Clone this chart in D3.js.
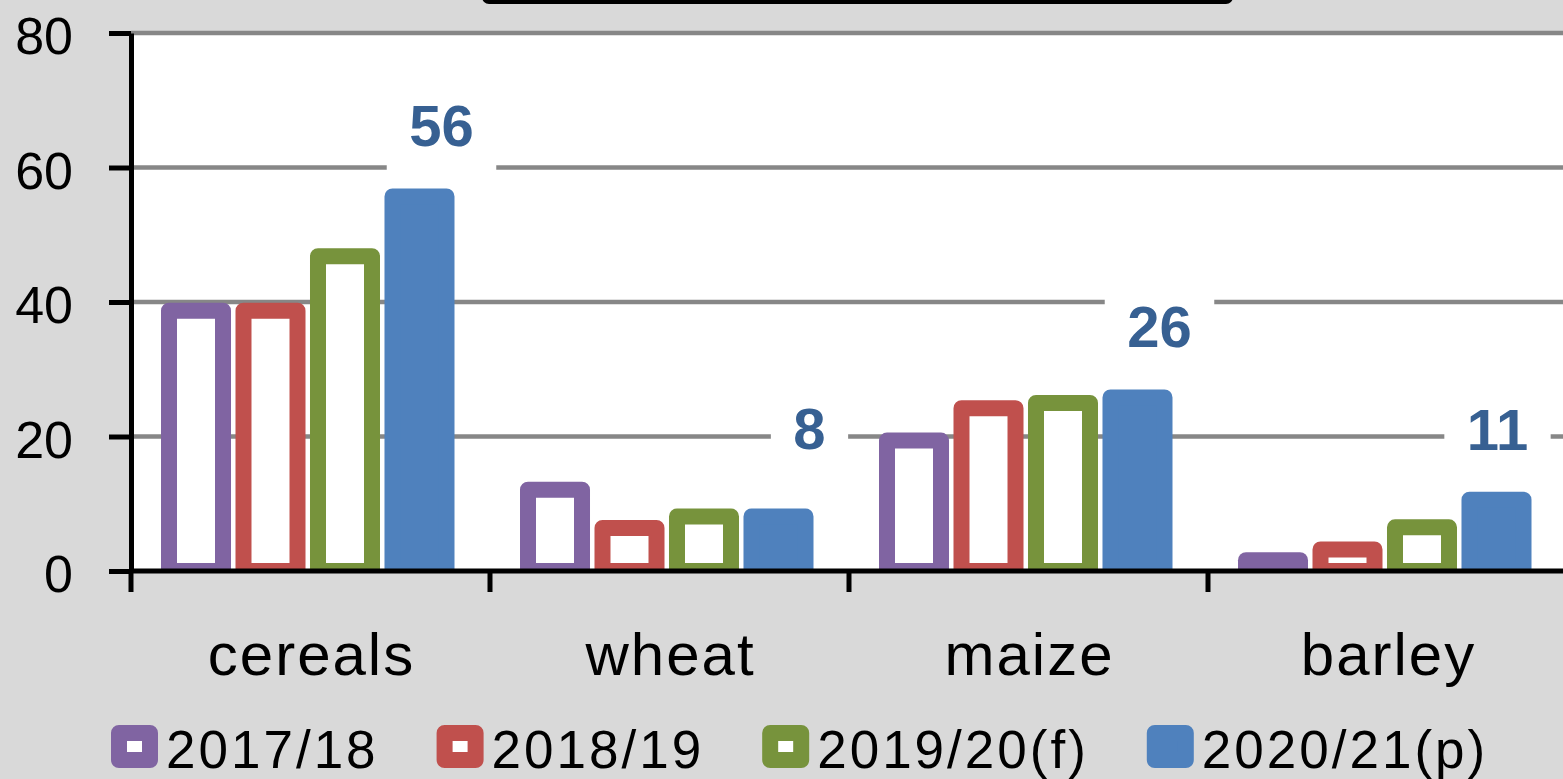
<!DOCTYPE html>
<html>
<head>
<meta charset="utf-8">
<script src="https://cdn.jsdelivr.net/npm/d3@7"></script>
<style>
    html, body { margin: 0; padding: 0; background: #d9d9d9; overflow: hidden; }
    svg { display: block; font-family: "Liberation Sans", Arial, sans-serif; }
</style>
</head>
<body>
<svg id="chart" width="1563" height="779"></svg>
<script>
'use strict';

// data
const categories = ["cereals", "wheat", "maize", "barley"];
const seriesNames = ["2017/18", "2018/19", "2019/20(f)", "2020/21(p)"];
const values201718 = [38.7, 12.1, 19.4, 1.6];
const values201819 = [38.7, 6.4, 24.2, 3.2];
const values201920 = [46.8, 8.1, 25.0, 6.5];
const values202021 = [55.7, 8.1, 25.8, 10.6];
const labelTexts = ["56", "8", "26", "11"];
const yTickValues = [0, 20, 40, 60, 80];

const seriesValues = [values201718, values201819, values201920, values202021];
const seriesColors = ["#8064a2", "#c0504d", "#77933c", "#4f81bd"];
const hollow = [true, true, true, false];

const _plotLeft = 131, _plotRight = 1567, _plotTop = 33, _plotBottom = 571;
const _barStroke = 16;

const svg = d3.select("#chart");

const x = d3.scaleBand().domain(categories).range([_plotLeft, _plotRight]);
const xs = d3.scaleBand().domain(seriesNames).range([38, 315.5]).paddingInner(0.275);
const y = d3.scaleLinear().domain([0, 80]).range([_plotBottom, _plotTop]);

// title box, only its bottom edge shows
svg.append("rect")
    .attr("x", 484).attr("y", -60)
    .attr("width", 747).attr("height", 62)
    .attr("rx", 5)
    .attr("fill", "#d9d9d9")
    .attr("stroke", "#000")
    .attr("stroke-width", 4);

// plot area
svg.append("rect")
    .attr("x", _plotLeft).attr("y", _plotTop)
    .attr("width", _plotRight - _plotLeft).attr("height", _plotBottom - _plotTop)
    .attr("fill", "#fff");

svg.append("g").selectAll("line")
    .data(yTickValues.filter(d => d > 0))
    .join("line")
    .attr("x1", _plotLeft).attr("x2", _plotRight)
    .attr("y1", d => y(d)).attr("y2", d => y(d))
    .attr("stroke", "#878787")
    .attr("stroke-width", 4.5);

svg.append("clipPath").attr("id", "plotClip")
    .append("rect")
    .attr("x", _plotLeft).attr("y", 0)
    .attr("width", _plotRight - _plotLeft).attr("height", _plotBottom);

// bars
const barData = [];
seriesValues.forEach(function (vals, i) {
    vals.forEach(function (v, j) {
        barData.push({series: i, cat: categories[j], value: v});
    });
});

svg.append("g").attr("clip-path", "url(#plotClip)")
    .selectAll("rect")
    .data(barData)
    .join("rect")
    .attr("x", d => x(d.cat) + xs(seriesNames[d.series]))
    .attr("y", d => y(d.value))
    .attr("width", xs.bandwidth())
    .attr("height", d => y(0) - y(d.value))
    .attr("fill", d => hollow[d.series] ? "#fff" : seriesColors[d.series])
    .attr("stroke", d => seriesColors[d.series])
    .attr("stroke-width", _barStroke)
    .attr("stroke-linejoin", "round");

// data labels on the last series, hand placed like in the original
const labelNudge = [[22, 0], [31, -18], [22, 0], [1, 0]];
const labels = svg.append("g");
categories.forEach(function (c, j) {
    const cx = x(c) + xs(seriesNames[3]) + xs.bandwidth() / 2 + labelNudge[j][0];
    const cy = y(values202021[j]) - 71 + labelNudge[j][1];
    const g = labels.append("g");
    const t = g.append("text")
        .attr("x", cx).attr("y", cy + 21)
        .attr("text-anchor", "middle")
        .attr("font-size", 58)
        .attr("font-weight", "bold")
        .attr("fill", "#376092")
        .text(labelTexts[j]);
    const w = t.node().getComputedTextLength() + 45;
    g.insert("rect", "text")
        .attr("x", cx - w / 2).attr("y", cy - 48)
        .attr("width", w).attr("height", 96)
        .attr("fill", "#fff");
});

// x axis
svg.append("line")
    .attr("x1", _plotLeft).attr("x2", _plotRight)
    .attr("y1", _plotBottom).attr("y2", _plotBottom)
    .attr("stroke", "#000").attr("stroke-width", 5);

svg.append("g").selectAll("line")
    .data(categories.map(c => x(c)).concat([x.range()[1]]))
    .join("line")
    .attr("x1", d => d).attr("x2", d => d)
    .attr("y1", _plotBottom).attr("y2", _plotBottom + 21)
    .attr("stroke", "#000").attr("stroke-width", 5);

svg.append("g").selectAll("text")
    .data(categories)
    .join("text")
    .attr("x", d => x(d) + x.bandwidth() / 2 + 1)
    .attr("y", 675)
    .attr("text-anchor", "middle")
    .attr("font-size", 60)
    .attr("letter-spacing", 2)
    .attr("fill", "#000")
    .text(d => d);

// y axis
const yAxis = svg.append("g")
    .attr("transform", "translate(" + _plotLeft + ",0)")
    .call(d3.axisLeft(y).tickValues(yTickValues).tickSize(22).tickSizeOuter(0).tickPadding(36));
yAxis.select(".domain").attr("stroke", "#000").attr("stroke-width", 5);
yAxis.selectAll(".tick line").attr("stroke", "#000").attr("stroke-width", 5);
yAxis.selectAll(".tick text")
    .attr("font-size", 52)
    .attr("font-family", "Liberation Sans, Arial, sans-serif")
    .attr("fill", "#000")
    .attr("dy", "0.4em");

// legend
const legend = svg.append("g");
let lx = 111;
seriesNames.forEach(function (name, i) {
    legend.append("rect")
        .attr("x", lx + 8).attr("y", 733)
        .attr("width", 31).attr("height", 27)
        .attr("fill", hollow[i] ? "#fff" : seriesColors[i])
        .attr("stroke", seriesColors[i])
        .attr("stroke-width", _barStroke)
        .attr("stroke-linejoin", "round");
    const t = legend.append("text")
        .attr("x", lx + 55).attr("y", 768)
        .attr("font-size", 53)
        .attr("letter-spacing", 3)
        .attr("fill", "#000")
        .text(name);
    lx += 55 + t.node().getComputedTextLength() + 58;
});
</script>
</body>
</html>
